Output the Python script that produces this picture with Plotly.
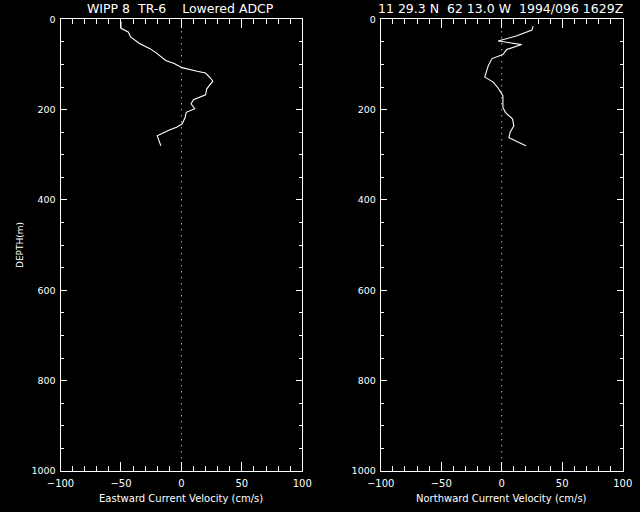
import plotly.graph_objects as go

# ---- data ----
east_depth = [5, 20, 28, 39, 53, 65, 76, 91, 98, 107, 115, 119, 130, 137, 154, 167, 178, 187, 198, 206, 218, 232, 239, 245, 258, 280]
east_vel = [-50, -50, -44, -42, -35, -26, -20, -13, -6, 0.5, 13, 20, 24, 26, 21, 20, 10, 8, 11, 4, 3, 0.5, -4, -10, -20, -17]

north_depth = [15, 24, 37, 48, 56, 67, 78, 87, 102, 128, 139, 152, 169, 195, 206, 221, 236, 250, 262, 280]
north_vel = [26, 25, 12, -3, 16.5, 4, 1, -8, -11, -14, -7, -3, 1, 1, 3, 9, 10, 7, 6, 20]

zero_x = [0, 0]
zero_depth = [0, 1000]

left_title = "WIPP 8  TR-6    Lowered ADCP"
right_title = "11 29.3 N  62 13.0 W  1994/096 1629Z"
east_label = "Eastward Current Velocity (cm/s)"
north_label = "Northward Current Velocity (cm/s)"
depth_label = "DEPTH(m)"

FONT = "DejaVu Sans"
W, H = 640, 512

def px_x(p):
    return p / W

def px_y(p):
    return 1 - p / H

fig = go.Figure()

# zero reference lines
for xa, ya in (("x", "y"), ("x2", "y2")):
    fig.add_trace(go.Scatter(x=zero_x, y=zero_depth, xaxis=xa, yaxis=ya, mode="lines",
                             line=dict(color="white", width=1, dash="1px,5px"),
                             hoverinfo="skip", showlegend=False))

fig.add_trace(go.Scatter(x=east_vel, y=east_depth, xaxis="x", yaxis="y", mode="lines",
                         line=dict(color="white", width=1.1), showlegend=False))
fig.add_trace(go.Scatter(x=north_vel, y=north_depth, xaxis="x2", yaxis="y2", mode="lines",
                         line=dict(color="white", width=1.1), showlegend=False))

tickfont = dict(family=FONT, size=10, color="white")
ytickfont = dict(family=FONT, size=9.5, color="white")

def xaxis(domain, anchor):
    return dict(domain=domain, anchor=anchor, range=[-100, 100], dtick=50, tick0=0,
                automargin=False,
                showline=True, linecolor="white", linewidth=1, mirror="allticks",
                ticks="inside", ticklen=9, tickwidth=1, tickcolor="white",
                showgrid=False, zeroline=False, tickfont=tickfont, ticklabelstandoff=3,
                minor=dict(dtick=10, tick0=0, ticks="inside", ticklen=5, tickcolor="white",
                           showgrid=False))

def yaxis(domain, anchor):
    return dict(domain=domain, anchor=anchor, range=[1000, 0], dtick=200, tick0=0,
                automargin=False,
                showline=True, linecolor="white", linewidth=1, mirror="allticks",
                ticks="inside", ticklen=6, tickwidth=1, tickcolor="white",
                showgrid=False, zeroline=False, tickfont=ytickfont, ticklabelstandoff=2,
                minor=dict(dtick=50, tick0=0, ticks="inside", ticklen=3, tickcolor="white",
                           showgrid=False))

ydom = [px_y(471), px_y(19.3)]
fig.update_layout(
    width=W, height=H,
    paper_bgcolor="black", plot_bgcolor="black",
    margin=dict(l=0, r=0, t=0, b=0),
    xaxis=xaxis([px_x(60.5), px_x(302.3)], "y"),
    yaxis=yaxis(ydom, "x"),
    xaxis2=xaxis([px_x(380.7), px_x(622.7)], "y2"),
    yaxis2=yaxis(ydom, "x2"),
    font=dict(family=FONT, color="white"),
)

def ann(text, x, y, size, angle=0):
    fig.add_annotation(text=text.replace(" ", "\u00a0"), x=px_x(x), y=px_y(y),
                       xref="paper", yref="paper", showarrow=False,
                       xanchor="center", yanchor="middle", textangle=angle,
                       font=dict(family=FONT, size=size, color="white"))

ann(left_title, 180.5, 8, 12.5)
ann(right_title, 500.5, 8, 12.5)
ann(east_label, 180.5, 498, 10)
ann(north_label, 501.7, 498, 10)
ann(depth_label, 20, 245, 9, angle=-90)

fig.write_html("out.html", config={"displayModeBar": False},
               post_script="document.body.style.margin='0';document.body.style.background='black';")
